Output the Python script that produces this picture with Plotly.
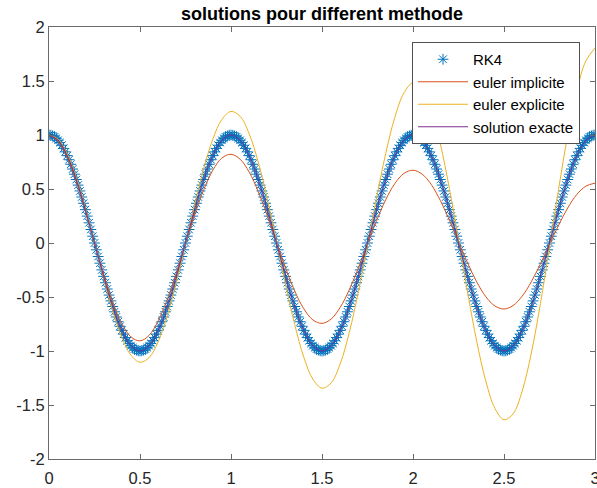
import numpy as np
import plotly.graph_objects as go

# time grids
t_fine = np.round(np.linspace(0, 3, 301), 2)     # RK4 step h = 0.01
t_coarse = np.round(np.linspace(0, 3, 61), 2)    # values read every 0.05

# RK4 (read every 0.01)
rk4 = [
 1.000, 0.998, 0.992, 0.982, 0.969, 0.951, 0.930, 0.905, 0.876, 0.844,
 0.809, 0.771, 0.729, 0.685, 0.637, 0.588, 0.536, 0.482, 0.426, 0.368,
 0.309, 0.249, 0.187, 0.125, 0.063, 0.000, -0.063, -0.125, -0.187, -0.249,
 -0.309, -0.368, -0.426, -0.482, -0.536, -0.588, -0.637, -0.685, -0.729, -0.771,
 -0.809, -0.844, -0.876, -0.905, -0.930, -0.951, -0.969, -0.982, -0.992, -0.998,
 -1.000, -0.998, -0.992, -0.982, -0.969, -0.951, -0.930, -0.905, -0.876, -0.844,
 -0.809, -0.771, -0.729, -0.685, -0.637, -0.588, -0.536, -0.482, -0.426, -0.368,
 -0.309, -0.249, -0.187, -0.125, -0.063, 0.000, 0.063, 0.125, 0.187, 0.249,
 0.309, 0.368, 0.426, 0.482, 0.536, 0.588, 0.637, 0.685, 0.729, 0.771,
 0.809, 0.844, 0.876, 0.905, 0.930, 0.951, 0.969, 0.982, 0.992, 0.998,
 1.000, 0.998, 0.992, 0.982, 0.969, 0.951, 0.930, 0.905, 0.876, 0.844,
 0.809, 0.771, 0.729, 0.685, 0.637, 0.588, 0.536, 0.482, 0.426, 0.368,
 0.309, 0.249, 0.187, 0.125, 0.063, 0.000, -0.063, -0.125, -0.187, -0.249,
 -0.309, -0.368, -0.426, -0.482, -0.536, -0.588, -0.637, -0.685, -0.729, -0.771,
 -0.809, -0.844, -0.876, -0.905, -0.930, -0.951, -0.969, -0.982, -0.992, -0.998,
 -1.000, -0.998, -0.992, -0.982, -0.969, -0.951, -0.930, -0.905, -0.876, -0.844,
 -0.809, -0.771, -0.729, -0.685, -0.637, -0.588, -0.536, -0.482, -0.426, -0.368,
 -0.309, -0.249, -0.187, -0.125, -0.063, 0.000, 0.063, 0.125, 0.187, 0.249,
 0.309, 0.368, 0.426, 0.482, 0.536, 0.588, 0.637, 0.685, 0.729, 0.771,
 0.809, 0.844, 0.876, 0.905, 0.930, 0.951, 0.969, 0.982, 0.992, 0.998,
 1.000, 0.998, 0.992, 0.982, 0.969, 0.951, 0.930, 0.905, 0.876, 0.844,
 0.809, 0.771, 0.729, 0.685, 0.637, 0.588, 0.536, 0.482, 0.426, 0.368,
 0.309, 0.249, 0.187, 0.125, 0.063, 0.000, -0.063, -0.125, -0.187, -0.249,
 -0.309, -0.368, -0.426, -0.482, -0.536, -0.588, -0.637, -0.685, -0.729, -0.771,
 -0.809, -0.844, -0.876, -0.905, -0.930, -0.951, -0.969, -0.982, -0.992, -0.998,
 -1.000, -0.998, -0.992, -0.982, -0.969, -0.951, -0.930, -0.905, -0.876, -0.844,
 -0.809, -0.771, -0.729, -0.685, -0.637, -0.588, -0.536, -0.482, -0.426, -0.368,
 -0.309, -0.249, -0.187, -0.125, -0.063, 0.000, 0.063, 0.125, 0.187, 0.249,
 0.309, 0.368, 0.426, 0.482, 0.536, 0.588, 0.637, 0.685, 0.729, 0.771,
 0.809, 0.844, 0.876, 0.905, 0.930, 0.951, 0.969, 0.982, 0.992, 0.998,
 1.000,
]

euler_implicite = [
 1.000, 0.942, 0.794, 0.572, 0.299, 0.002, -0.289, -0.546, -0.746, -0.869,
 -0.906, -0.855, -0.721, -0.521, -0.274, -0.005, 0.259, 0.492, 0.674, 0.787,
 0.821, 0.776, 0.656, 0.475, 0.251, 0.008, -0.231, -0.444, -0.609, -0.712,
 -0.744, -0.704, -0.596, -0.433, -0.231, -0.010, 0.207, 0.400, 0.550, 0.644,
 0.674, 0.638, 0.542, 0.394, 0.212, 0.012, -0.185, -0.360, -0.497, -0.583,
 -0.611, -0.579, -0.492, -0.359, -0.194, -0.013, 0.165, 0.324, 0.449, 0.527,
 0.554,
]

euler_explicite = [
 1.000, 0.961, 0.826, 0.606, 0.323, 0.002, -0.325, -0.627, -0.873, -1.038,
 -1.104, -1.061, -0.914, -0.673, -0.361, -0.007, 0.354, 0.688, 0.961, 1.144,
 1.218, 1.173, 1.011, 0.747, 0.403, 0.013, -0.386, -0.755, -1.057, -1.261,
 -1.344, -1.296, -1.119, -0.829, -0.451, -0.020, 0.420, 0.828, 1.163, 1.389,
 1.483, 1.432, 1.239, 0.920, 0.503, 0.029, -0.458, -0.909, -1.279, -1.531,
 -1.636, -1.582, -1.371, -1.020, -0.562, -0.039, 0.498, 0.997, 1.407, 1.687,
 1.805,
]

solution_exacte = [
 1.000, 0.951, 0.809, 0.588, 0.309, 0.000, -0.309, -0.588, -0.809, -0.951,
 -1.000, -0.951, -0.809, -0.588, -0.309, 0.000, 0.309, 0.588, 0.809, 0.951,
 1.000, 0.951, 0.809, 0.588, 0.309, 0.000, -0.309, -0.588, -0.809, -0.951,
 -1.000, -0.951, -0.809, -0.588, -0.309, 0.000, 0.309, 0.588, 0.809, 0.951,
 1.000, 0.951, 0.809, 0.588, 0.309, 0.000, -0.309, -0.588, -0.809, -0.951,
 -1.000, -0.951, -0.809, -0.588, -0.309, 0.000, 0.309, 0.588, 0.809, 0.951,
 1.000,
]

x_ticks = [0, 0.5, 1, 1.5, 2, 2.5, 3]
y_ticks = [-2, -1.5, -1, -0.5, 0, 0.5, 1, 1.5, 2]

FONT = "Liberation Sans, Arial, Helvetica, sans-serif"
AX = "#6a6a6a"

fig = go.Figure()
fig.add_trace(go.Scatter(x=t_fine, y=rk4, mode="markers", name="RK4",
                         marker=dict(symbol="asterisk-open", size=9,
                                     line=dict(color="#0072BD", width=1),
                                     color="#0072BD")))
fig.add_trace(go.Scatter(x=t_coarse, y=euler_implicite, mode="lines",
                         name="euler implicite",
                         line=dict(color="#D95319", width=1, shape="spline")))
fig.add_trace(go.Scatter(x=t_coarse, y=euler_explicite, mode="lines",
                         name="euler explicite",
                         line=dict(color="#EDB120", width=1, shape="spline")))
fig.add_trace(go.Scatter(x=t_coarse, y=solution_exacte, mode="lines",
                         name="solution exacte",
                         line=dict(color="#7E2F8E", width=1, shape="spline")))

axis_common = dict(showline=True, mirror="ticks", linecolor=AX, linewidth=1,
                   ticks="inside", ticklen=5, tickcolor=AX, showgrid=False,
                   zeroline=False, ticklabeloverflow="allow", automargin=False,
                   tickfont=dict(family=FONT, size=16.5, color="#262626"))

fig.update_layout(
    width=597, height=488,
    margin=dict(l=49, r=2, t=27, b=29),
    paper_bgcolor="white", plot_bgcolor="white",
    title=dict(text="<b>solutions pour different methode</b>",
               x=322 / 597, xanchor="center",
               y=1 - 14 / 488, yanchor="middle",
               font=dict(family=FONT, size=18, color="black")),
    xaxis=dict(range=[0, 3], tickvals=x_ticks, ticklabelstandoff=4,
               ticktext=[f"{v:g}" for v in x_ticks], **axis_common),
    yaxis=dict(range=[-2, 2], tickvals=y_ticks,
               ticktext=[f"{v:g}" for v in y_ticks], **axis_common),
    legend=dict(x=(412 - 49) / 546, y=(459 - 42) / 432,
                xanchor="left", yanchor="top",
                bgcolor="white", bordercolor="#505050", borderwidth=1,
                font=dict(family=FONT, size=15, color="black"),
                itemwidth=50, tracegroupgap=0),
    showlegend=True,
)

fig.write_html("out.html", config={"displayModeBar": False},
               post_script="document.body.style.margin='0';document.body.style.overflow='hidden';")
